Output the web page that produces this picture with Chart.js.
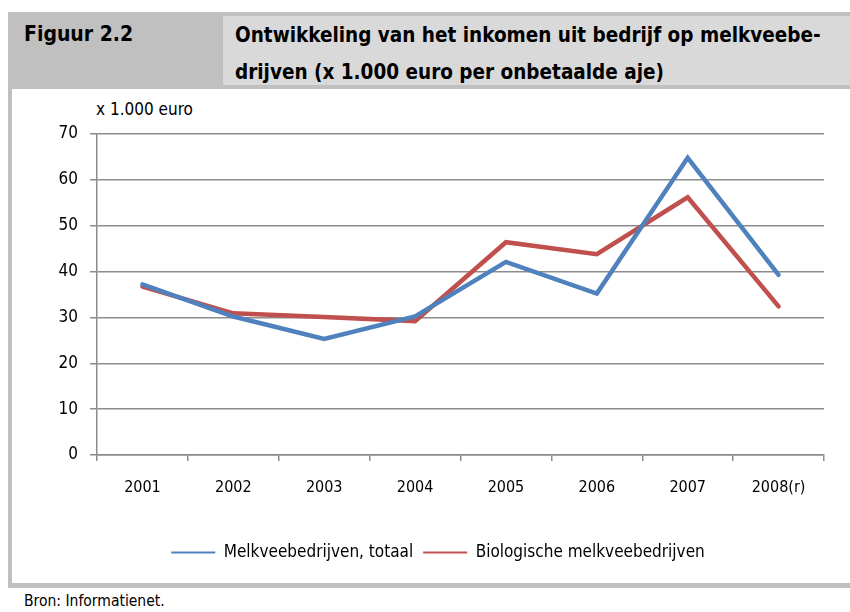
<!DOCTYPE html>
<html>
<head>
<meta charset="utf-8">
<script src="https://cdn.jsdelivr.net/npm/chart.js@4"></script>
<style>
  body { margin: 0; width: 850px; height: 612px; background: #fff; position: relative; overflow: hidden;
         font-family: "Liberation Sans Narrow", "DejaVu Sans Condensed", sans-serif; }
  .band { position: absolute; left: 8px; top: 12px; width: 842px; height: 77px; background: #c0c0c0; }
  .titlebox { position: absolute; left: 223px; top: 16px; width: 627px; height: 69px; background: #d9d9d9; }
  .fig { position: absolute; left: 24px; top: 22px; font-size: 21px; font-weight: bold; color: #000; }
  .title { position: absolute; left: 235px; top: 17px; font-size: 20.5px; font-weight: bold; line-height: 37px; color: #000; }
  .leftbar { position: absolute; left: 8px; top: 89px; width: 4px; height: 499px; background: #c0c0c0; }
  .bottombar { position: absolute; left: 8px; top: 583px; width: 842px; height: 5px; background: #c0c0c0; }
  .unit { position: absolute; left: 96px; top: 99px; font-size: 17px; color: #000; }
  .source { position: absolute; left: 24px; top: 592px; font-size: 15.5px; color: #000; }
  .wrap { position: absolute; left: 12px; top: 89px; width: 838px; height: 494px; }
</style>
</head>
<body>
<div class="band"></div>
<div class="titlebox"></div>
<div class="fig">Figuur 2.2</div>
<div class="title">Ontwikkeling van het inkomen uit bedrijf op melkveebe-<br>drijven (x 1.000 euro per onbetaalde aje)</div>
<div class="leftbar"></div>
<div class="bottombar"></div>
<div class="unit">x 1.000 euro</div>
<div class="source">Bron: Informatienet.</div>
<div class="wrap"><canvas id="chart" width="838" height="494"></canvas></div>

<script>
const years = ["2001", "2002", "2003", "2004", "2005", "2006", "2007", "2008(r)"];
const totaal = [37.2, 30.2, 25.3, 30.2, 42.1, 35.2, 64.8, 39.3];
const biologisch = [36.7, 30.9, 30.1, 29.2, 46.4, 43.8, 56.2, 32.4];
const yTicks = [0, 10, 20, 30, 40, 50, 60, 70];

const gridColor = "#8c8c8c";
Chart.defaults.font.family = '"Liberation Sans Narrow", "DejaVu Sans Condensed", sans-serif';
Chart.defaults.color = "#000";

// legend sits a bit right of the centre in the original
const shiftLegend = {
  id: "shiftLegend",
  afterLayout: function (chart) {
    chart.legend.left += 14;
    chart.legend.right += 14;
  },
};

const ctx = document.getElementById("chart").getContext("2d");
const myChart = new Chart(ctx, {
  type: "line",
  data: {
    labels: years,
    datasets: [
      {
        label: "Melkveebedrijven, totaal",
        data: totaal,
        borderColor: "#4F81BD",
        backgroundColor: "#4F81BD",
        borderWidth: 4.5,
        pointRadius: 0,
        tension: 0,
        borderCapStyle: "round",
      },
      {
        label: "Biologische melkveebedrijven",
        data: biologisch,
        borderColor: "#C0504D",
        backgroundColor: "#C0504D",
        borderWidth: 4.5,
        pointRadius: 0,
        tension: 0,
        borderCapStyle: "round",
      },
    ],
  },
  options: {
    responsive: false,
    animation: false,
    layout: { padding: { left: 12, right: 26, top: 45, bottom: 12 } },
    plugins: {
      tooltip: { enabled: false },
      legend: {
        position: "bottom",
        labels: {
          usePointStyle: true,
          pointStyle: "line",
          pointStyleWidth: 44,
          padding: 10,
          font: { size: 17 },
          generateLabels: function (chart) {
            const items = Chart.defaults.plugins.legend.labels.generateLabels(chart);
            items.forEach(function (it) {
              it.lineWidth = 2;
              it.pointStyle = "line";
            });
            return items;
          },
        },
      },
    },
    scales: {
      x: {
        offset: true,
        grid: { display: true, offset: true, drawOnChartArea: false, drawTicks: true, tickLength: 6, color: gridColor, lineWidth: 1.5 },
        border: { display: true, color: gridColor, width: 1.5 },
        ticks: { font: { size: 16 }, padding: 17, maxRotation: 0 },
        afterFit: function (s) { s.height = 79; },
      },
      y: {
        min: 0,
        max: 70,
        grid: { color: gridColor, lineWidth: 1.5, tickLength: 7 },
        border: { display: true, color: gridColor, width: 1.5 },
        afterBuildTicks: function (s) { s.ticks = yTicks.map(function (v) { return { value: v }; }); },
        ticks: { font: { size: 17 }, padding: 12 },
        afterFit: function (s) { s.width = 73; },
      },
    },
  },
  plugins: [shiftLegend],
});
</script>
</body>
</html>
